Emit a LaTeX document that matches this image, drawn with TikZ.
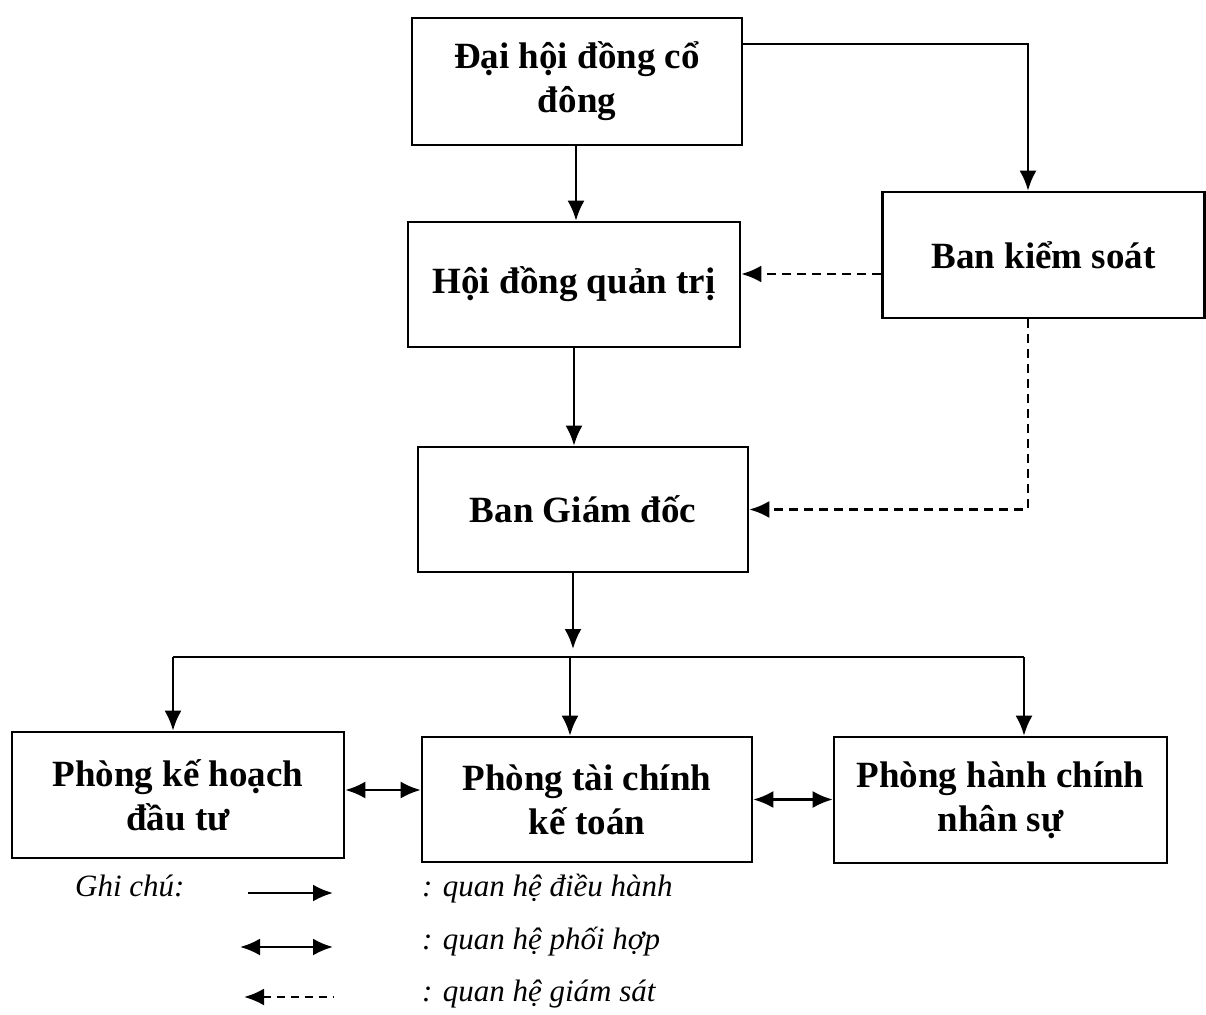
\documentclass[tikz,border=0pt]{standalone}
\usepackage{fontspec}
\setmainfont{Liberation Serif}
\usetikzlibrary{arrows.meta,calc}
\tikzset{
  box/.style={draw, line width=2.6pt, align=center, inner sep=0pt,
    font=\bfseries\fontsize{37}{44}\selectfont},
  tip/.style={Latex[length=20pt,width=17pt]},
  arr/.style={line width=2.6pt, -{Latex[length=20pt,width=17pt]}},
  darr/.style={line width=2.6pt, {Latex[length=20pt,width=17pt]}-{Latex[length=20pt,width=17pt]}},
  sup/.style={line width=2.6pt, dash pattern=on 9pt off 6pt, -{Latex[length=20pt,width=17pt]}},
  legtext/.style={anchor=base west, inner sep=0pt, font=\itshape\fontsize{31}{36}\selectfont}
}
\begin{document}
\begin{tikzpicture}[x=1pt,y=-1pt]
\useasboundingbox (0,0) rectangle (1206,1014);
\node[box, minimum width=330pt, minimum height=127pt] (dh) at (577,81.5) {Đại hội đồng cổ\\đông};
\node[box, minimum width=332pt, minimum height=125pt] (hd) at (574,284.5) {Hội đồng quản trị};
\node[box, minimum width=322pt, minimum height=126pt] (bks) at (1043.5,255) {Ban kiểm soát};
\node[box, minimum width=330pt, minimum height=125pt] (bgd) at (583,509.5) {Ban Giám đốc};
\node[box, minimum width=332pt, minimum height=126pt] (pkh) at (178,795) {Phòng kế hoạch\\đầu tư};
\node[box, minimum width=330pt, minimum height=125pt] (ptc) at (587,799.5) {Phòng tài chính\\kế toán};
\node[box, minimum width=333pt, minimum height=126pt] (phc) at (1000.5,800) {Phòng hành chính\\nhân sự};

% command relations
\draw[arr] ([xshift=-1pt]dh.south) -- ([xshift=-1pt]dh.south |- hd.north);
\draw[arr] (dh.east |- {0,44}) -| ([xshift=-15.5pt]bks.north);
\draw[arr] (hd.south) -- (hd.south |- bgd.north);
\coordinate (bus) at (573,649);
\draw[arr] ([xshift=-10pt]bgd.south) -- (bus);
\coordinate (bl) at (173,657);
\coordinate (br) at (1024,657);
\draw[line width=2.6pt] (bl) -- (br);
\draw[arr] (bl) -- (bl |- pkh.north);
\draw[arr] ([xshift=-17pt]ptc.north |- bl) -- ([xshift=-17pt]ptc.north);
\draw[arr] (br) -- (br |- phc.north);

% supervision
\draw[sup] (bks.west |- {0,274}) -- (hd.east |- {0,274});
\draw[sup] ([xshift=-15.5pt]bks.south) |- (bgd.east);

% coordination
\draw[darr] (pkh.east |- {0,790}) -- (ptc.west |- {0,790});
\draw[darr] (ptc.east) -- (ptc.east -| phc.west);

% legend
\node[legtext] (gc) at (75,896) {Ghi chú:};
\coordinate (l1a) at (248,893); \coordinate (l1b) at (333,893);
\coordinate (l2a) at (240,947); \coordinate (l2b) at (333,947);
\coordinate (l3a) at (244,997); \coordinate (l3b) at (333,997);
\draw[arr] (l1a) -- (l1b);
\draw[darr] (l2a) -- (l2b);
\draw[line width=2.6pt, dash pattern=on 8pt off 6pt, {Latex[length=20pt,width=17pt]}-] (l3a) -- (l3b);
\node[legtext] (t1) at (422,896) {: quan hệ điều hành};
\node[legtext] (t2) at (422,949) {: quan hệ phối hợp};
\node[legtext] (t3) at (422,1001) {: quan hệ giám sát};
\end{tikzpicture}
\end{document}
